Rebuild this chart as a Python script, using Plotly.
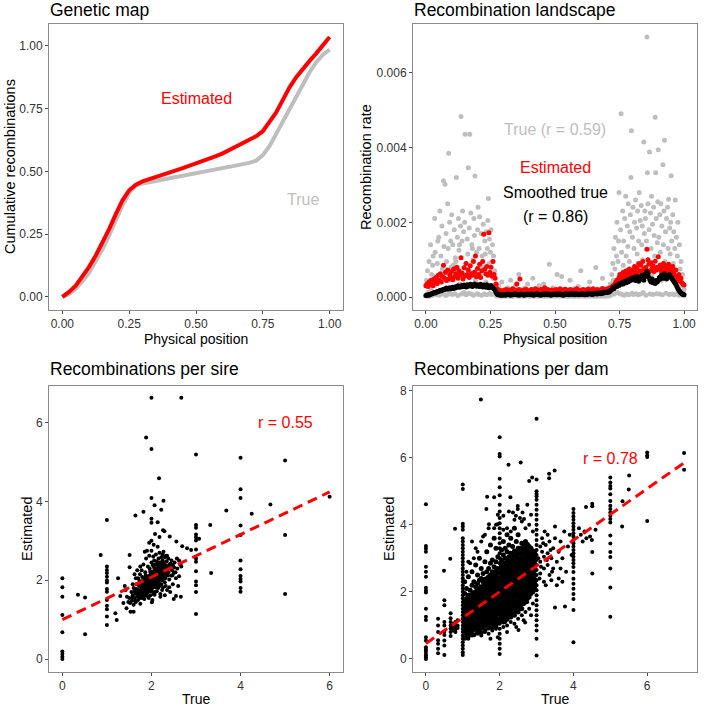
import plotly.graph_objects as go

# ---------------- Panel 1: genetic map ----------------
MAP_POS = [0.0,0.025,0.05,0.075,0.1,0.125,0.15,0.175,0.2,0.225,0.25,0.275,0.3,0.325,0.35,0.375,0.4,0.425,0.45,0.475,0.5,
           0.525,0.55,0.575,0.6,0.625,0.65,0.675,0.7,0.725,0.75,0.775,0.8,0.825,0.85,0.875,0.9,0.925,0.95,0.975,1.0]
MAP_TRUE = [0.0,0.012,0.033,0.062,0.097,0.14,0.19,0.245,0.305,0.365,0.415,0.443,0.452,0.458,0.463,0.468,0.473,0.478,0.483,0.488,
            0.493,0.498,0.503,0.508,0.513,0.518,0.523,0.528,0.534,0.543,0.565,0.6,0.65,0.7,0.75,0.8,0.85,0.895,0.935,0.965,0.985]
MAP_EST = [0.0,0.02,0.045,0.08,0.12,0.165,0.215,0.27,0.33,0.385,0.425,0.447,0.46,0.468,0.478,0.487,0.496,0.504,0.513,0.522,
           0.532,0.541,0.551,0.561,0.572,0.585,0.598,0.612,0.625,0.64,0.66,0.695,0.735,0.785,0.835,0.875,0.91,0.94,0.97,1.0,1.035]

# ---------------- Panel 2: recombination landscape (rates in units of 1e-5) ----------------
# true rate, one value every 0.002 of physical position
LAND_TRUE_E5 = [
    3,45,8,70,12,2,95,30,5,140,20,60,4,85,110,10,55,210,120,35,6,7,90,150,15,
    160,5,230,40,110,8,190,75,12,311,135,60,302,4,170,95,6,250,130,385,45,200,10,150,80,
    220,7,140,85,55,180,9,105,95,320,70,160,4,210,125,140,35,190,483,8,150,230,60,175,12,
    200,436,90,6,75,155,115,346,10,185,436,65,225,8,140,130,100,5,210,165,324,45,70,120,9,
    180,240,7,130,215,60,85,170,5,110,95,195,80,8,150,115,40,175,6,130,205,264,90,155,10,
    120,180,7,95,140,50,110,8,70,35,25,5,15,3,20,8,30,4,12,2,18,6,40,3,10,
    5,12,2,20,8,3,15,6,25,4,10,2,18,7,45,3,12,5,22,2,9,14,4,30,6,
    11,3,16,5,8,60,2,13,6,20,4,9,3,15,7,2,24,5,10,3,18,6,35,4,8,
    2,14,5,9,3,20,7,50,4,11,2,16,6,8,3,22,5,12,2,30,7,4,15,3,9,
    6,18,3,35,5,10,2,14,7,4,20,3,9,6,88,2,12,5,17,3,8,25,4,11,2,
    15,5,8,3,60,6,12,2,19,4,10,7,3,55,5,14,2,9,6,21,3,11,4,16,2,
    8,5,13,3,45,6,10,2,17,4,9,3,22,5,7,2,15,6,11,3,28,4,8,2,12,
    70,5,9,3,16,6,11,2,20,4,8,3,14,5,10,2,24,40,7,3,13,4,9,2,18,
    6,11,3,15,79,8,2,12,5,19,3,9,6,14,2,22,4,50,7,3,17,5,10,2,13,
    4,15,6,25,3,12,8,35,5,20,60,10,90,45,130,8,75,160,30,110,200,12,95,150,280,
    60,9,180,491,120,7,230,85,150,5,210,40,270,110,8,190,135,250,6,95,175,220,320,445,10,
    160,240,7,130,200,55,260,9,185,115,230,6,150,280,70,205,8,245,140,190,100,12,415,170,230,
    210,5,150,696,333,250,90,180,388,8,225,130,270,60,195,7,240,165,110,481,333,210,9,145,255,
    394,160,8,220,120,250,45,190,6,354,140,230,420,95,175,10,210,60,240,130,262,7,185,115,200,
    325,150,8,220,90,175,6,130,260,55,160,9,110,200,40,5,140,75,12,95,30,6,60,15,4,
    20]
LAND_TRUE_STEP = 0.002
# estimated and smoothed-true rates, one value every 0.004
LAND_EST_E5 = [
    30,35,28,40,33,45,38,30,48,42,52,36,58,45,62,40,55,85,50,66,44,72,48,60,53,
    68,46,75,55,62,80,50,70,58,105,64,48,78,56,90,60,72,52,84,62,58,95,66,110,54,
    76,60,88,52,70,95,168,74,62,82,58,172,66,80,56,95,60,50,35,22,16,18,14,17,13,
    15,18,13,20,16,14,19,12,17,22,15,18,14,35,16,20,48,13,17,15,19,14,21,16,13,
    17,14,20,15,18,13,22,16,14,19,17,12,21,15,18,25,14,16,20,13,17,15,19,14,18,
    16,20,14,18,15,22,13,17,19,15,21,14,16,18,13,20,15,17,14,19,16,22,15,18,14,
    17,15,20,14,18,16,13,21,15,19,14,17,22,16,18,15,20,14,17,19,16,23,18,21,20,
    19,22,18,24,21,26,30,28,35,40,45,38,52,60,48,55,66,50,62,70,56,64,75,58,68,
    72,60,82,66,78,58,90,70,85,64,95,75,62,80,128,100,88,70,92,76,84,68,96,72,80,
    108,74,86,68,80,90,72,84,66,78,88,70,76,62,82,68,58,72,55,48,60,42,50,38,35,
    32]
LAND_SMOOTH_E5 = [
    4,5,6,5,7,8,9,10,12,11,13,15,14,16,18,17,19,21,20,22,24,21,23,25,22,
    24,26,23,27,25,28,30,26,29,27,31,28,32,30,27,33,29,31,34,30,28,32,35,31,29,
    33,30,28,34,31,27,32,29,26,33,30,25,28,31,27,24,22,18,12,8,6,7,5,6,5,
    6,7,5,6,8,7,6,5,7,6,8,7,9,6,7,5,6,8,7,6,5,7,6,8,7,
    7,6,8,7,5,6,7,9,8,6,7,5,6,8,7,6,9,7,6,8,7,5,6,7,8,
    8,7,6,9,7,8,6,7,5,6,8,9,7,6,8,7,10,8,7,6,9,8,7,6,8,
    7,8,9,7,6,8,7,9,8,10,8,7,9,8,10,9,8,11,10,9,12,10,11,13,12,
    12,14,13,15,18,20,24,22,27,30,28,33,31,36,34,38,35,40,42,38,45,41,47,44,50,
    46,52,48,44,55,50,42,47,53,58,50,45,60,55,68,62,52,45,40,48,38,42,36,44,40,
    45,52,48,58,55,50,62,56,48,52,58,60,54,50,46,42,38,34,28,22,18,14,11,9,7,
    6]
LAND_EST_STEP = 0.004

# ---------------- Panel 3: recombinations per sire ----------------
SIRE_CLOUD = [
    (1.70,1.75),(1.72,1.85),(1.74,1.68),(1.76,1.92),(1.78,1.80),(1.80,1.72),(1.80,1.98),(1.82,1.86),(1.84,1.78),(1.85,2.05),
    (1.86,1.92),(1.88,1.70),(1.88,1.84),(1.90,2.00),(1.90,1.88),(1.92,1.76),(1.93,2.10),(1.94,1.95),(1.95,1.82),(1.96,2.02),
    (1.97,1.90),(1.98,2.15),(1.99,1.78),(2.00,2.00),(2.00,1.88),(2.01,2.08),(2.02,1.95),(2.03,2.22),(2.04,1.84),(2.05,2.05),
    (2.06,1.98),(2.07,2.14),(2.08,1.90),(2.09,2.28),(2.10,2.02),(2.11,2.10),(2.12,1.96),(2.13,2.20),(2.14,2.06),(2.15,2.32),
    (2.16,2.12),(2.17,2.00),(2.18,2.24),(2.19,2.15),(2.20,2.08),(2.21,2.36),(2.22,2.20),(2.23,2.12),(2.24,2.28),(2.25,2.40),
    (2.26,2.18),(2.28,2.30),(2.30,2.22),(2.32,2.38),(2.34,2.26),(1.84,1.95),(1.92,2.05),(1.96,1.72),(2.05,2.15),(2.10,1.92),
    (1.78,1.95),(1.86,1.74),(2.02,1.80),(2.14,2.25),(2.00,2.20),(1.75,1.75),(1.82,1.68),(1.90,1.80),(1.95,1.90),(2.00,1.95),
    (2.05,1.90),(2.10,2.15),(2.15,2.00),(2.20,2.20),(2.25,2.25),(1.68,1.65),(1.72,1.72),(1.80,1.85),(1.85,1.85),(1.95,2.10),
    (2.00,2.10),(2.08,2.05),(2.12,2.30),(2.20,2.30),(2.28,2.15),
    (1.62,1.72),(1.66,1.78),(1.70,1.62),(1.73,1.98),(1.77,1.65),(1.79,2.08),(1.83,1.62),(1.87,2.12),(1.89,1.95),(1.91,1.68),
    (1.93,1.86),(1.97,2.22),(1.99,2.05),(2.01,1.72),(2.03,1.92),(2.06,2.32),(2.09,1.82),(2.11,2.22),(2.13,1.88),(2.16,2.38),
    (2.17,1.92),(2.19,2.45),(2.21,2.02),(2.23,2.34),(2.27,2.10),(2.29,2.36),(2.31,2.05),(2.33,2.30),(2.36,2.12),(2.39,2.32),
    (2.43,2.42),(2.47,2.12),(2.51,2.32),(2.54,2.20),(1.57,1.56),(1.63,1.48),(1.67,1.70),(1.74,1.58),(1.81,1.55),(1.87,1.62),
    (2.24,1.75),(2.32,1.85),(2.40,1.82),(2.45,2.38),(2.35,2.62),(2.25,2.65),(1.75,2.35),(1.68,2.25),(2.57,2.55),(2.65,2.40),
    (1.50,1.55),(1.52,1.42),(1.55,1.70),(1.56,1.48),(1.58,1.62),(1.60,1.38),(1.60,1.80),(1.62,1.55),(1.64,1.66),(1.65,1.45),
    (1.66,1.90),(1.68,1.58),(1.70,1.50),(1.70,2.05),(1.72,1.62),(1.74,2.15),(1.75,1.40),(1.76,1.55),(1.78,2.25),(1.80,1.60),
    (1.82,2.40),(1.84,1.52),(1.86,2.20),(1.88,2.55),(1.90,1.60),(1.90,2.75),(1.92,2.35),(1.94,1.55),(1.95,2.62),(1.96,2.30),
    (1.98,1.62),(2.00,2.45),(2.00,2.75),(2.02,1.50),(2.03,2.38),(2.04,2.60),(2.05,1.65),(2.06,2.50),(2.08,2.40),(2.08,1.70),
    (2.10,2.65),(2.12,1.72),(2.12,2.48),(2.14,2.40),(2.15,1.80),(2.16,2.55),(2.18,1.85),(2.18,2.70),(2.20,2.42),(2.22,1.90),
    (2.22,2.58),(2.24,2.00),(2.25,2.50),(2.26,1.82),(2.28,2.44),(2.28,2.05),(2.30,2.58),(2.30,1.95),(2.32,2.15),(2.34,2.48),
    (2.35,1.75),(2.36,2.34),(2.38,2.20),(2.38,2.55),(2.40,2.02),(2.40,2.40),(2.42,2.30),(2.44,2.12),(2.45,2.50),(2.46,2.25),
    (2.48,1.90),(2.48,2.38),(2.50,2.18),(2.52,2.45),(2.55,2.05),(2.58,2.30),(2.60,1.85),(2.62,2.50),(2.30,1.62),(2.20,1.65),
    (2.42,1.70),(2.55,1.60),(1.65,2.05),(1.58,1.90),(1.62,2.15),(1.45,1.58),(1.48,1.45),(1.40,1.85),(2.66,1.58),(2.50,1.52),
    (2.20,1.58),(2.01,1.44),(2.07,1.63),(2.41,3.11),(2.56,2.98),(2.69,2.86),(2.80,2.81),(2.89,2.77),(2.67,2.35),(2.29,3.24),
    (2.27,2.72),(2.33,2.62),(2.14,2.85),(1.95,2.95),(2.05,2.90),(1.85,2.72),(2.18,3.10),(1.51,2.64),(1.51,2.33),(1.25,2.05),
    (1.19,1.16),(1.22,0.99),(1.37,1.42),(1.44,1.29),(1.60,1.20),(1.53,1.20),(0.35,1.63),(0.51,1.56),(0.51,0.63),(0.86,2.64),
    (2.67,6.63),(1.88,5.62),(2.17,4.59),(4.67,3.92),(2.07,3.90),(2.27,4.02),(2.22,3.79),(1.82,3.74),(1.64,3.64),(2.14,3.47),
    (3.68,3.77),(4.25,3.69),(3.07,3.05),(3.32,3.40),(3.34,2.18),(2.26,3.27),(2.08,3.17),(1.30,1.60),(1.42,1.75),(2.62,2.10)]
SIRE_STACKS = {
    0: [2.05,1.82,1.58,1.12,0.68,0.19,0.13,0.06,0.0],
    1: [3.53,2.35,2.26,2.18,2.09,1.99,1.94,1.78,1.71,1.50,1.35,1.26,1.08,0.86],
    2: [6.63,5.33,4.09,3.56,3.46,3.0],
    3: [5.19,3.40,3.33,3.16,3.09,3.01,2.78,2.55,2.47,2.23,1.97,1.87,1.70,1.14],
    4: [5.11,4.31,4.09,3.39,3.15,2.50,2.28,2.11,2.03,1.97,1.80,1.71],
    5: [5.04,3.15,1.65],
    6: [4.12]}
SIRE_FIT = (1.0, 0.54)   # intercept, slope
SIRE_R = "r = 0.55"

# ---------------- Panel 4: recombinations per dam ----------------
DAM_CLOUD_X = [1.05,1.10,1.15,1.20,1.25,1.30,1.35,1.40,1.45,1.50,1.55,1.60,1.65,1.70,1.75,1.80,1.85,1.90,1.95,
               2.05,2.10,2.15,2.20,2.25,2.30,2.35,2.40,2.45,2.50,2.55,2.60,2.65,2.70,2.75,2.80,2.85,2.90,2.95]
DAM_CLOUD_Y = [
    [0.62,0.85,0.95,1.08,1.2,1.33,1.45,1.58,1.7,1.95,2.3],
    [0.75,0.9,1.02,1.15,1.27,1.4,1.52,1.65,1.8,2.1],
    [0.68,0.82,0.96,1.1,1.22,1.36,1.48,1.6,1.75,1.9,2.45],
    [0.78,0.9,1.04,1.18,1.3,1.43,1.56,1.7,1.85,2.05],
    [0.85,0.97,1.1,1.24,1.37,1.5,1.63,1.77,1.92,2.2,2.6],
    [0.72,0.88,1.01,1.14,1.28,1.41,1.55,1.68,1.82,1.97,2.3],
    [0.9,1.03,1.17,1.3,1.44,1.58,1.7,1.85,2.0,2.15,2.8],
    [0.8,0.95,1.08,1.22,1.35,1.48,1.62,1.75,1.9,2.05,2.25,2.5],
    [0.88,1.0,1.13,1.27,1.4,1.53,1.67,1.8,1.95,2.1,2.35,3.0],
    [0.78,0.93,1.06,1.2,1.33,1.46,1.6,1.73,1.87,2.0,2.15,2.4,2.7],
    [0.95,1.08,1.22,1.35,1.48,1.62,1.75,1.88,2.02,2.16,2.3,2.55],
    [0.85,1.0,1.12,1.26,1.4,1.53,1.67,1.8,1.93,2.07,2.22,2.38,2.9],
    [1.05,1.18,1.3,1.44,1.57,1.7,1.84,1.97,2.1,2.25,2.4,2.6,3.2],
    [0.92,1.06,1.2,1.34,1.47,1.6,1.73,1.87,2.0,2.14,2.28,2.45,2.7],
    [1.0,1.12,1.26,1.4,1.53,1.67,1.8,1.94,2.08,2.2,2.34,2.5,2.85,3.4],
    [0.95,1.08,1.22,1.35,1.49,1.62,1.76,1.9,2.03,2.17,2.3,2.44,2.6,2.95],
    [1.05,1.16,1.3,1.44,1.57,1.7,1.84,1.98,2.12,2.25,2.4,2.55,2.75,3.6],
    [0.98,1.12,1.25,1.38,1.52,1.65,1.78,1.92,2.06,2.2,2.33,2.47,2.62,2.9,3.3],
    [1.08,1.2,1.34,1.47,1.6,1.74,1.88,2.02,2.15,2.28,2.42,2.56,2.7,3.05],
    [1.15,1.28,1.41,1.55,1.68,1.82,1.95,2.08,2.22,2.36,2.5,2.64,2.78,2.95,3.25],
    [1.1,1.23,1.37,1.5,1.63,1.77,1.9,2.04,2.18,2.31,2.45,2.58,2.72,2.86,3.1,3.5],
    [1.2,1.33,1.46,1.6,1.73,1.87,2.0,2.14,2.27,2.4,2.54,2.68,2.82,3.0,3.3],
    [1.18,1.3,1.44,1.57,1.7,1.84,1.98,2.12,2.25,2.38,2.52,2.66,2.8,2.95,3.2,3.7],
    [1.28,1.4,1.54,1.67,1.8,1.94,2.08,2.22,2.35,2.48,2.62,2.76,2.9,3.05,3.4],
    [1.25,1.38,1.5,1.64,1.77,1.9,2.04,2.18,2.32,2.45,2.58,2.72,2.86,3.0,3.15,3.6],
    [1.35,1.48,1.6,1.74,1.87,2.0,2.14,2.28,2.42,2.55,2.68,2.82,2.96,3.1,3.35],
    [1.3,1.44,1.57,1.7,1.84,1.97,2.1,2.24,2.38,2.52,2.65,2.78,2.92,3.06,3.22,3.9],
    [1.45,1.58,1.7,1.84,1.97,2.1,2.24,2.38,2.52,2.65,2.78,2.92,3.06,3.2,3.5],
    [1.4,1.54,1.67,1.8,1.94,2.07,2.2,2.34,2.48,2.62,2.75,2.88,3.02,3.16,3.3,3.7],
    [1.55,1.68,1.8,1.94,2.07,2.2,2.34,2.48,2.62,2.75,2.88,3.02,3.16,3.3],
    [1.5,1.64,1.77,1.9,2.04,2.17,2.3,2.44,2.58,2.72,2.85,2.98,3.12,3.26,3.45],
    [1.65,1.78,1.9,2.04,2.17,2.3,2.44,2.58,2.72,2.85,2.98,3.12,3.26,3.4],
    [1.7,1.84,1.97,2.1,2.24,2.37,2.5,2.64,2.78,2.92,3.05,3.18,3.32,3.5],
    [1.8,1.94,2.07,2.2,2.34,2.47,2.6,2.74,2.88,3.02,3.15,3.28,3.42],
    [1.85,1.98,2.12,2.25,2.38,2.52,2.65,2.78,2.92,3.05,3.2,3.35],
    [1.95,2.08,2.22,2.35,2.48,2.62,2.75,2.88,3.02,3.15,3.3],
    [2.0,2.14,2.27,2.4,2.54,2.67,2.8,2.94,3.08,3.22],
    [2.1,2.24,2.38,2.52,2.65,2.78,2.92,3.05,3.2]]
DAM_SCATTER = [
    (1.1,2.6),(1.2,2.85),(1.3,3.0),(1.4,3.2),(1.5,3.5),(1.55,3.65),(1.6,3.7),(1.66,4.84),(1.7,3.9),(1.85,4.82),(1.64,4.47),
    (1.25,3.5),(1.15,2.9),(1.35,3.3),(1.9,4.0),(1.95,4.3),(2.1,4.27),(2.25,4.4),(2.36,4.37),(2.44,4.27),(2.49,4.56),(2.49,4.47),
    (2.55,4.2),(2.6,4.1),(2.62,4.37),(2.7,3.9),(2.8,4.0),(2.85,4.3),(2.9,3.8),(2.2,3.9),(2.3,3.8),(2.4,4.15),(2.1,3.85),
    (1.85,3.9),(2.75,4.6),(2.29,4.82),(2.66,4.17),(1.94,4.02),(1.71,4.02),(2.8,5.31),(2.88,5.41),(2.24,5.79),(2.57,5.86),
    (1.49,7.74),(3.34,5.52),(3.34,5.39),(3.49,5.62),(0.79,3.88),(0.66,2.99),(0.49,2.63),
    (1.4,0.75),(1.5,0.7),(1.6,0.8),(1.7,0.75),(1.8,0.85),(1.9,0.9),(2.1,0.95),(2.2,1.0),(2.3,1.1),(2.4,1.05),(2.5,1.2),
    (2.6,1.3),(2.7,1.4),(2.8,1.5),(2.9,1.65),(2.69,1.09),(2.51,0.86),(2.2,0.8),(1.75,0.6),(1.95,0.65),(2.45,0.95),(2.65,1.15),
    (2.85,1.3),(2.75,1.7),(2.55,1.5),(2.35,1.3),(2.15,1.1),(1.15,0.6),(1.25,0.7),
    (3.1,2.9),(3.15,3.2),(3.2,2.7),(3.2,3.05),(3.25,3.4),(3.3,2.8),(3.3,3.15),(3.35,2.5),(3.35,3.5),(3.4,3.0),(3.45,2.7),
    (3.45,3.3),(3.5,3.6),(3.55,2.9),(3.6,3.2),(3.6,2.4),(3.65,3.5),(3.7,3.0),(3.75,3.8),(3.8,2.6),(3.85,3.35),(3.9,3.7),
    (3.2,2.3),(3.1,2.55),(3.15,3.6),(3.05,3.0),(3.1,3.35),(3.25,2.2),(3.3,3.7),(3.4,2.35),(3.5,3.95),(3.55,2.2),(3.65,2.7),
    (3.7,2.3),(3.95,3.1),(3.12,2.75),(3.18,3.45),(3.28,2.95),(3.38,3.25),(3.08,2.4),(3.22,3.8),(3.42,2.6),
    (3.77,1.56),(3.5,1.53),(4.2,3.7),(4.3,3.8),(4.35,3.6),(4.45,3.65),(4.5,3.55),(4.31,3.79),(4.51,3.19),(4.51,2.55),
    (4.51,4.63),(4.51,4.55),(4.34,4.53),(4.15,3.9),(4.25,3.5),(4.6,3.85),(5.32,3.95),(5.51,5.47),(5.5,5.05),(5.33,4.7)]
DAM_STACKS = {
    0.0: [4.61,3.37,3.29,3.2,2.75,2.6,2.45,2.12,2.04,1.98,1.5,1.26,1.16,0.65,0.55,0.35,0.28,0.22,0.15,0.1,0.05,0.0],
    0.33: [1.2,1.0,0.8,0.56,0.45,0.3,0.17],
    0.5: [1.75,1.6,1.1,1.0,0.81,0.71,0.55,0.4,0.12],
    0.67: [1.36,1.21,1.1,1.0,0.91,0.8,0.68],
    0.75: [1.05,0.98,0.9,0.85],
    0.8: [1.1,1.02,0.95,0.88,0.8],
    0.86: [1.15,1.0,0.92],
    1.0: [5.2,5.07,4.03,3.95,3.85,3.6,3.5,3.4,3.3,3.2,3.1,3.0,2.9,2.8,2.7,2.6,2.5,2.4,2.3,2.2,2.1,2.0,1.9,1.8,1.7,1.6,
          1.5,1.4,1.3,1.2,1.1,1.0,0.9,0.8,0.7,0.6,0.5,0.4,0.3,0.2,0.12],
    2.0: [6.61,6.11,6.04,5.37,5.12,4.88,4.6,4.4,4.2,4.05,3.9,3.75,3.6,3.45,3.3,3.15,3.0,2.85,2.7,2.55,2.4,2.25,2.1,1.95,
          1.8,1.65,1.5,1.35,1.2,1.05,0.9,0.75,0.6,0.45,0.3,0.15],
    3.0: [7.16,5.35,5.0,4.92,4.85,4.75,4.6,4.45,4.3,4.15,4.0,3.85,3.7,3.55,3.4,3.25,3.1,2.95,2.8,2.65,2.5,2.35,2.2,2.05,
          1.9,1.75,1.6,1.45,1.3,1.15,1.0,0.85,0.6,0.1],
    4.0: [4.47,4.35,4.25,4.15,4.05,3.95,3.85,3.75,3.65,3.55,3.45,3.35,3.25,3.15,3.05,2.95,2.85,2.74,2.59,2.39,2.24,2.09,
          1.94,1.79,1.46,0.5],
    5.0: [5.41,5.26,5.16,5.08,4.91,4.71,4.57,4.47,4.37,4.27,4.17,4.07,3.68,3.44,3.19,3.04,2.7,2.13,1.26],
    6.0: [6.16,6.07,6.02,4.11],
    7.0: [6.14,5.64]}
DAM_FIT = (0.46, 0.77)
DAM_R = "r = 0.78"

# ---------------- styling ----------------
FONT = "Liberation Sans, Arial, Helvetica, sans-serif"
RED = "#FF0000"
GREY = "#BEBEBE"
BOX = "#8a8a8a"
TICKC = "#4d4d4d"
TICKLBL = "#333333"
W, H = 708, 706

def px_x(p):
    return p / W

def px_y(p):
    return 1 - p / H

# ---------------- build the figure ----------------
fig = go.Figure()

# Panel 1
fig.add_trace(go.Scatter(x=MAP_POS, y=MAP_TRUE, mode="lines", line=dict(color=GREY, width=4),
                         xaxis="x", yaxis="y", hoverinfo="skip"))
fig.add_trace(go.Scatter(x=MAP_POS, y=MAP_EST, mode="lines", line=dict(color=RED, width=4),
                         xaxis="x", yaxis="y", hoverinfo="skip"))

# Panel 2
true_pos = [i * LAND_TRUE_STEP for i in range(len(LAND_TRUE_E5))]
est_pos = [i * LAND_EST_STEP for i in range(len(LAND_EST_E5))]
smooth_pos = [i * LAND_EST_STEP for i in range(len(LAND_SMOOTH_E5))]
fig.add_trace(go.Scatter(x=true_pos, y=[v * 1e-5 for v in LAND_TRUE_E5], mode="markers",
                         marker=dict(color=GREY, size=5), xaxis="x2", yaxis="y2", hoverinfo="skip"))
fig.add_trace(go.Scatter(x=est_pos, y=[v * 1e-5 for v in LAND_EST_E5], mode="markers",
                         marker=dict(color=RED, size=5), xaxis="x2", yaxis="y2", hoverinfo="skip"))
fig.add_trace(go.Scatter(x=smooth_pos, y=[v * 1e-5 for v in LAND_SMOOTH_E5], mode="markers",
                         marker=dict(color="black", size=5), xaxis="x2", yaxis="y2", hoverinfo="skip"))

# Panel 3
sx = [p[0] for p in SIRE_CLOUD]
sy = [p[1] for p in SIRE_CLOUD]
for tv, ests in SIRE_STACKS.items():
    sx += [tv] * len(ests)
    sy += ests
fig.add_trace(go.Scatter(x=sx, y=sy, mode="markers", marker=dict(color="black", size=4),
                         xaxis="x3", yaxis="y3", hoverinfo="skip"))
fig.add_trace(go.Scatter(x=[0, 6], y=[SIRE_FIT[0], SIRE_FIT[0] + SIRE_FIT[1] * 6], mode="lines",
                         line=dict(color=RED, width=3, dash="10px,6px"), xaxis="x3", yaxis="y3", hoverinfo="skip"))

# Panel 4
cx_all, cy_all = [], []
for cx, ys in zip(DAM_CLOUD_X, DAM_CLOUD_Y):
    cx_all += [cx] * len(ys)
    cy_all += ys
fig.add_trace(go.Scatter(x=cx_all, y=cy_all, mode="markers", marker=dict(color="black", size=5),
                         xaxis="x4", yaxis="y4", hoverinfo="skip"))
dx = [p[0] for p in DAM_SCATTER]
dy = [p[1] for p in DAM_SCATTER]
for tv, ests in DAM_STACKS.items():
    dx += [tv] * len(ests)
    dy += ests
fig.add_trace(go.Scatter(x=dx, y=dy, mode="markers", marker=dict(color="black", size=4),
                         xaxis="x4", yaxis="y4", hoverinfo="skip"))
fig.add_trace(go.Scatter(x=[0, 7], y=[DAM_FIT[0], DAM_FIT[0] + DAM_FIT[1] * 7], mode="lines",
                         line=dict(color=RED, width=3, dash="10px,6px"), xaxis="x4", yaxis="y4", hoverinfo="skip"))

def ax(domain, rng, tickvals, ticktext, anchor):
    return dict(domain=domain, range=rng, tickvals=tickvals, ticktext=ticktext, anchor=anchor,
                showline=True, linecolor=BOX, linewidth=1, mirror=True, automargin=False,
                ticks="outside", ticklen=3, tickwidth=1, tickcolor=TICKC,
                showgrid=False, zeroline=False, fixedrange=True,
                tickfont=dict(family=FONT, size=12, color=TICKLBL))

LEFT = [px_x(49), px_x(343)]
RIGHT = [px_x(413), px_x(697)]
TOP = [px_y(310), px_y(24)]
BOT = [px_y(672), px_y(386)]

pos_ticks = [0, 0.25, 0.5, 0.75, 1.0]
pos_text = ["0.00", "0.25", "0.50", "0.75", "1.00"]

fig.update_layout(
    width=W, height=H, margin=dict(l=0, r=0, t=0, b=0, pad=0, autoexpand=False),
    paper_bgcolor="white", plot_bgcolor="white", showlegend=False,
    font=dict(family=FONT, color="black"),
    xaxis=ax(LEFT, [-0.05, 1.05], pos_ticks, pos_text, "y"),
    yaxis=ax(TOP, [-0.052, 1.087], pos_ticks, pos_text, "x"),
    xaxis2=ax(RIGHT, [-0.05, 1.05], pos_ticks, pos_text, "y2"),
    yaxis2=ax(TOP, [-0.000348, 0.00731], [0, 0.002, 0.004, 0.006], ["0.000", "0.002", "0.004", "0.006"], "x2"),
    xaxis3=ax(LEFT, [-0.3, 6.3], [0, 2, 4, 6], ["0", "2", "4", "6"], "y3"),
    yaxis3=ax(BOT, [-0.33, 6.93], [0, 2, 4, 6], ["0", "2", "4", "6"], "x3"),
    xaxis4=ax(RIGHT, [-0.35, 7.35], [0, 2, 4, 6], ["0", "2", "4", "6"], "y4"),
    yaxis4=ax(BOT, [-0.39, 8.14], [0, 2, 4, 6, 8], ["0", "2", "4", "6", "8"], "x4"),
)

ann = []
def text(t, x, y, xref, yref, size, color="black", xanchor="center", angle=0):
    ann.append(dict(text=t, x=x, y=y, xref=xref, yref=yref, showarrow=False, xanchor=xanchor,
                    yanchor="middle", textangle=angle, font=dict(family=FONT, size=size, color=color)))

# titles
text("Genetic map", px_x(48), px_y(10), "paper", "paper", 17.5, xanchor="left")
text("Recombination landscape", px_x(412), px_y(10), "paper", "paper", 17.5, xanchor="left")
text("Recombinations per sire", px_x(48), px_y(369), "paper", "paper", 17.5, xanchor="left")
text("Recombinations per dam", px_x(412), px_y(369), "paper", "paper", 17.5, xanchor="left")
# axis titles
text("Physical position", px_x(196), px_y(339), "paper", "paper", 14)
text("Physical position", px_x(555), px_y(339), "paper", "paper", 14)
text("True", px_x(196), px_y(699), "paper", "paper", 14)
text("True", px_x(555), px_y(699), "paper", "paper", 14)
text("Cumulative recombinations", px_x(10), px_y(167), "paper", "paper", 14.5, angle=-90)
text("Recombination rate", px_x(366), px_y(167), "paper", "paper", 14.5, angle=-90)
text("Estimated", px_x(27), px_y(529), "paper", "paper", 14.5, angle=-90)
text("Estimated", px_x(389), px_y(529), "paper", "paper", 14.5, angle=-90)
# in-panel labels
text("Estimated", 0.5, 0.79, "x", "y", 16, RED)
text("True", 0.9, 0.39, "x", "y", 16, GREY)
text("True (r = 0.59)", 0.5, 0.00448, "x2", "y2", 16, GREY)
text("Estimated", 0.5, 0.00347, "x2", "y2", 16, RED)
text("Smoothed true", 0.5, 0.0028, "x2", "y2", 16, "black")
text("(r = 0.86)", 0.5, 0.00216, "x2", "y2", 16, "black")
text(SIRE_R, 5.0, 6.0, "x3", "y3", 16, RED)
text(DAM_R, 5.0, 5.97, "x4", "y4", 16, RED)
fig.update_layout(annotations=ann)

fig.write_html("out.html", config={"displayModeBar": False},
               post_script="document.body.style.margin='0';document.body.style.overflow='hidden';")
